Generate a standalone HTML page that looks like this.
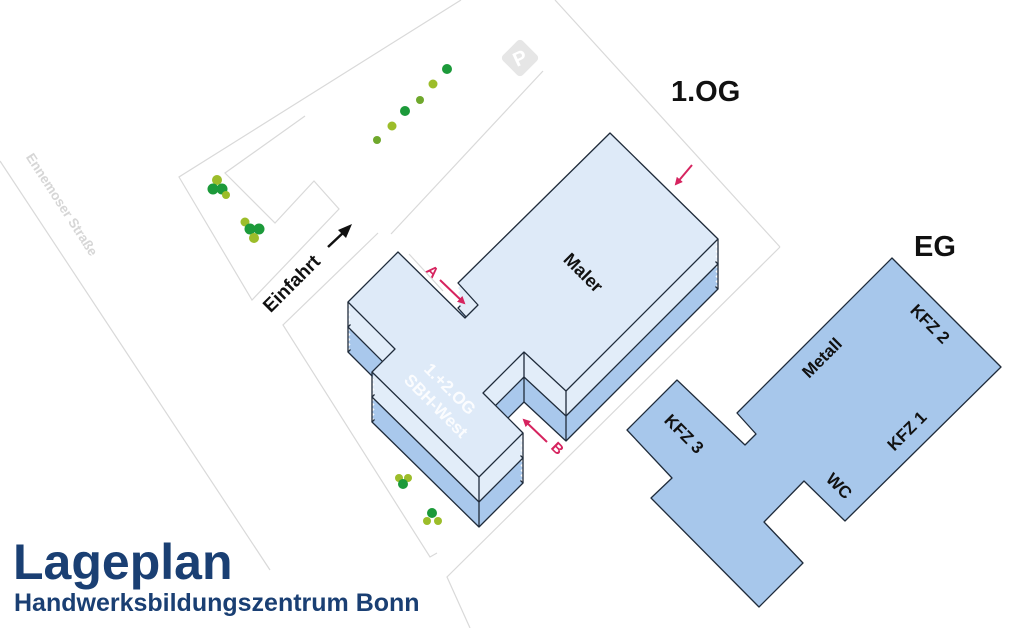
<!DOCTYPE html>
<html><head><meta charset="utf-8"><style>
html,body{margin:0;padding:0;background:#fff;}
svg{display:block;}
text{font-family:"Liberation Sans",Arial,sans-serif;font-weight:bold;}
</style></head><body>
<svg width="1024" height="628" viewBox="0 0 1024 628" xmlns="http://www.w3.org/2000/svg">
<defs>
<polygon id="b" points="398,252 465,318 478,305 458,283 610,133 718,239 566,391 524,352 483,393 523,433 479,477 372,372 395,349 348,302"/>
<marker id="ah" markerWidth="8" markerHeight="8" refX="6" refY="4" orient="auto" markerUnits="userSpaceOnUse"><path d="M0,0 L8,4 L0,8 z" fill="#d6245f"/></marker>
</defs>
<g fill="none" stroke="#d9d9d9" stroke-width="1.2">
<polyline points="461,0 179,177 252,300 339,209 314,181 275,223 225,173 305,116"/>
<line x1="391" y1="234" x2="543" y2="71"/>
<line x1="555" y1="0" x2="780" y2="247"/>
<polyline points="780,247 447,577 470,628"/>
<polyline points="378,233 283,325 430,557 437,553"/>
<line x1="409" y1="254" x2="443" y2="291"/>
<line x1="0" y1="161" x2="270" y2="570"/>
</g>
<text transform="translate(58,207) rotate(57)" font-size="13.5" fill="#d6d6d6" font-weight="normal" text-anchor="middle">Ennemoser Straße</text>
<g transform="translate(520,58) rotate(-45)"><rect x="-14" y="-14" width="28" height="28" rx="4" fill="#e6e6e6"/><text x="0" y="7" font-size="20" fill="#fff" text-anchor="middle" transform="rotate(20)">P</text></g>
<g>
<circle cx="377" cy="140" r="4" fill="#6fa82c"/><circle cx="392" cy="126" r="4.5" fill="#9cbd2a"/><circle cx="405" cy="111" r="5" fill="#1c9a3a"/><circle cx="420" cy="100" r="4" fill="#6fa82c"/><circle cx="433" cy="84" r="4.5" fill="#9cbd2a"/><circle cx="447" cy="69" r="5" fill="#1c9a3a"/>
<circle cx="217" cy="180" r="5" fill="#9cbd2a"/><circle cx="213" cy="189" r="5.5" fill="#1c9a3a"/><circle cx="222" cy="189" r="5.5" fill="#1c9a3a"/><circle cx="226" cy="195" r="4" fill="#9cbd2a"/>
<circle cx="245" cy="222" r="4.5" fill="#9cbd2a"/><circle cx="250" cy="229" r="5.5" fill="#1c9a3a"/><circle cx="259" cy="229" r="5.5" fill="#1c9a3a"/><circle cx="254" cy="238" r="5" fill="#9cbd2a"/>
<circle cx="399" cy="478" r="4" fill="#9cbd2a"/><circle cx="408" cy="478" r="4" fill="#9cbd2a"/><circle cx="403" cy="484" r="5" fill="#1c9a3a"/>
<circle cx="432" cy="513" r="5" fill="#1c9a3a"/><circle cx="427" cy="521" r="4" fill="#9cbd2a"/><circle cx="438" cy="521" r="4" fill="#9cbd2a"/>
</g>
<g stroke-linejoin="round">
<use href="#b" transform="translate(0,50)" fill="#a9c8ec" stroke="#1f2b3a" stroke-width="1.3"/>
<g fill="#a9c8ec">
<use href="#b" transform="translate(0,45)"/><use href="#b" transform="translate(0,40)"/><use href="#b" transform="translate(0,35)"/><use href="#b" transform="translate(0,30)"/>
</g>
<use href="#b" transform="translate(0,25)" fill="#e2edf9" stroke="#1f2b3a" stroke-width="1.3"/>
<g fill="#e2edf9">
<use href="#b" transform="translate(0,20)"/><use href="#b" transform="translate(0,15)"/><use href="#b" transform="translate(0,10)"/><use href="#b" transform="translate(0,5)"/>
</g>
<use href="#b" fill="#deeaf8" stroke="#1f2b3a" stroke-width="1.3"/>
<g stroke="#1f2b3a" stroke-width="1.3">
<line x1="348" y1="302" x2="348" y2="352"/><line x1="372" y1="372" x2="372" y2="422"/><line x1="479" y1="477" x2="479" y2="527"/><line x1="523" y1="433" x2="523" y2="483"/><line x1="566" y1="391" x2="566" y2="441"/><line x1="718" y1="239" x2="718" y2="289"/><line x1="524" y1="352" x2="524" y2="402"/>
</g>
</g>
<text transform="translate(579,277) rotate(45)" font-size="18" text-anchor="middle" fill="#111">Maler</text>
<text transform="translate(446,393) rotate(45)" font-size="17" text-anchor="middle" fill="#fff" opacity="0.9">1.+2.OG</text>
<text transform="translate(432,410) rotate(45)" font-size="17" text-anchor="middle" fill="#fff" opacity="0.9">SBH-West</text>
<g stroke="#d6245f" stroke-width="2">
<line x1="440" y1="280" x2="464" y2="303" marker-end="url(#ah)"/>
<line x1="692" y1="165" x2="676" y2="184" marker-end="url(#ah)"/>
<line x1="547" y1="442" x2="524" y2="420" marker-end="url(#ah)"/>
</g>
<text transform="translate(429,275) rotate(45)" font-size="15" fill="#d6245f" text-anchor="middle">A</text>
<text transform="translate(554,452) rotate(45)" font-size="15" fill="#d6245f" text-anchor="middle">B</text>
<text transform="translate(296,288) rotate(-45)" font-size="19" text-anchor="middle" fill="#111">Einfahrt</text>
<line x1="328" y1="247" x2="345" y2="231" stroke="#111" stroke-width="2.5"/>
<path d="M352,224 L338,230 L346,238 z" fill="#111"/>
<polygon points="892,258 1001,367 845,521 804,481 764,522 803,563 759,607 651,498 672,478 627,430 677,380 745,445 756,434 737,413" fill="#a7c7eb" stroke="#1f2b3a" stroke-width="1.3" stroke-linejoin="round"/>
<text transform="translate(826,362) rotate(-45)" font-size="17" text-anchor="middle" fill="#111">Metall</text>
<text transform="translate(926,328) rotate(45)" font-size="17" text-anchor="middle" fill="#111">KFZ 2</text>
<text transform="translate(911,435) rotate(-45)" font-size="17" text-anchor="middle" fill="#111">KFZ 1</text>
<text transform="translate(835,490) rotate(45)" font-size="17" text-anchor="middle" fill="#111">WC</text>
<text transform="translate(680,438) rotate(45)" font-size="17" text-anchor="middle" fill="#111">KFZ 3</text>
<text x="671" y="101" font-size="29" fill="#111">1.OG</text>
<text x="914" y="256" font-size="29" fill="#111">EG</text>
<text x="13" y="579" font-size="50" fill="#1a3f73">Lageplan</text>
<text x="14" y="611" font-size="25" fill="#1a3f73">Handwerksbildungszentrum Bonn</text>
</svg>
</body></html>
